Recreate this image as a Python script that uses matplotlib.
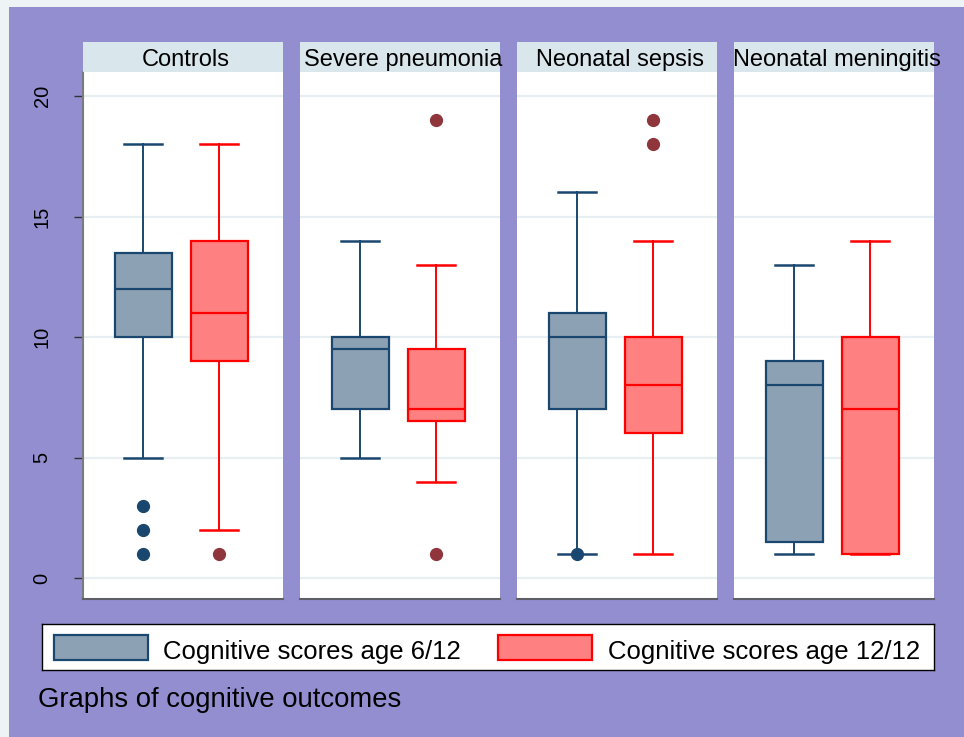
import matplotlib
matplotlib.use("Agg")
import matplotlib.pyplot as plt
from matplotlib.patches import Rectangle

plt.rcParams["font.family"] = ["Liberation Sans", "DejaVu Sans"]

# ---- data -------------------------------------------------------------
groups = ["Controls", "Severe pneumonia", "Neonatal sepsis", "Neonatal meningitis"]
series_labels = ["Cognitive scores age 6/12", "Cognitive scores age 12/12"]

# age 6/12
q1_6 = [10, 7, 7, 1.5]
med_6 = [12, 9.5, 10, 8]
q3_6 = [13.5, 10, 11, 9]
lo_6 = [5, 5, 1, 1]
hi_6 = [18, 14, 16, 13]
out_6 = [[3, 2, 1], [], [1], []]

# age 12/12
q1_12 = [9, 6.5, 6, 1]
med_12 = [11, 7, 8, 7]
q3_12 = [14, 9.5, 10, 10]
lo_12 = [2, 4, 1, 1]
hi_12 = [18, 13, 14, 14]
out_12 = [[1], [19, 1], [19, 18], []]

yticks = [0, 5, 10, 15, 20]
caption = "Graphs of cognitive outcomes"

# ---- styling ----------------------------------------------------------
W, H = 964, 737
BG = "#938ed0"
HEADER = "#d9e6eb"
GRID = "#e8eff2"
NAVY = "#1a476f"
NAVY_FILL = "#8da1b4"
RED = "#ff0000"
RED_FILL = "#ff8080"
MAROON = "#90353b"

fig = plt.figure(figsize=(W / 100, H / 100), dpi=100, facecolor="#eef3f5")


def px_rect(x0, y0, x1, y1):
    """Figure-fraction rect from pixel box (top-left origin)."""
    return [x0 / W, 1 - y1 / H, (x1 - x0) / W, (y1 - y0) / H]


fig.patches.append(Rectangle((9 / W, 0), 1 - 9 / W, 1 - 7 / H,
                             transform=fig.transFigure, facecolor=BG,
                             edgecolor="none", zorder=-10))

panel_x = [83, 300, 517, 734]
panel_w = 200
plot_top, plot_bot = 72, 599
head_top = 42


def stats(i, q1, med, q3, lo, hi, out):
    return dict(q1=q1[i], med=med[i], q3=q3[i], whislo=lo[i], whishi=hi[i],
                fliers=out[i])


for i, g in enumerate(groups):
    x0 = panel_x[i]
    ax = fig.add_axes(px_rect(x0, plot_top, x0 + panel_w, plot_bot))
    ax.set_facecolor("white")

    for pos, st, edge, fill, fc in [
        (1, stats(i, q1_6, med_6, q3_6, lo_6, hi_6, out_6), NAVY, NAVY_FILL, NAVY),
        (2, stats(i, q1_12, med_12, q3_12, lo_12, hi_12, out_12), RED, RED_FILL, MAROON),
    ]:
        ax.bxp([st], positions=[pos], widths=0.75, capwidths=0.5,
               patch_artist=True, showfliers=True,
               boxprops=dict(facecolor=fill, edgecolor=edge, linewidth=1.6),
               whiskerprops=dict(color=edge, linewidth=1.4),
               capprops=dict(color=edge, linewidth=1.8),
               medianprops=dict(color=edge, linewidth=1.6),
               flierprops=dict(marker="o", markerfacecolor=fc,
                               markeredgecolor=fc, markersize=8.5))

    ax.set_xlim(0.204, 0.204 + panel_w / 76)
    ax.set_ylim(-0.87, 21.0)
    ax.set_xticks([])
    ax.set_yticks(yticks)
    ax.yaxis.grid(True, color=GRID, linewidth=1.6)
    ax.set_axisbelow(True)

    for s in ("top", "right", "left"):
        ax.spines[s].set_visible(False)
    ax.spines["bottom"].set_color("#5e5e66")
    ax.spines["bottom"].set_linewidth(1.5)

    if i == 0:
        ax.spines["left"].set_visible(True)
        ax.spines["left"].set_color("#7a7a80")
        ax.spines["left"].set_linewidth(1.5)
        ax.tick_params(axis="y", length=6.5, width=1.0, color="#333333",
                       labelsize=14.5, pad=23)
        for lab in ax.get_yticklabels():
            lab.set_rotation(90)
            lab.set_va("center")
            lab.set_ha("center")
    else:
        ax.tick_params(axis="y", length=0, labelleft=False)

    hax = fig.add_axes(px_rect(x0, head_top, x0 + panel_w, plot_top))
    hax.set_facecolor(HEADER)
    hax.set_xticks([])
    hax.set_yticks([])
    for s in hax.spines.values():
        s.set_visible(False)
    hax.text(0.515, 0.47, g, ha="center", va="center_baseline", fontsize=17,
             transform=hax.transAxes, clip_on=False)

# ---- legend ---------------------------------------------------------------
lax = fig.add_axes(px_rect(42, 624, 934, 670))
lax.set_xlim(42, 934)
lax.set_ylim(670, 624)
lax.set_xticks([])
lax.set_yticks([])
lax.set_facecolor("white")
for s in lax.spines.values():
    s.set_color("black")
    s.set_linewidth(1.0)
for (xa, xb, xt), edge, fill, lab in zip([(54, 148, 163), (498, 592, 608)],
                                         [NAVY, RED], [NAVY_FILL, RED_FILL],
                                         series_labels):
    lax.add_patch(Rectangle((xa, 635), xb - xa, 25, facecolor=fill,
                            edgecolor=edge, linewidth=1.6))
    lax.text(xt, 649, lab, ha="left", va="center_baseline", fontsize=18.5)

fig.text(38 / W, 1 - 700 / H, caption, ha="left", va="center", fontsize=19.8)

fig.savefig("out.png", dpi=100, facecolor=fig.get_facecolor())
